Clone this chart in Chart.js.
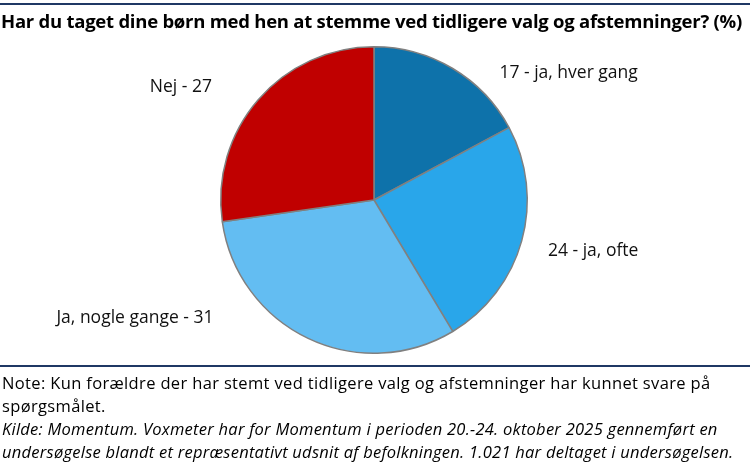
<!DOCTYPE html>
<html>
<head>
<meta charset="utf-8">
<script src="https://cdn.jsdelivr.net/npm/chart.js@4.4.1/dist/chart.umd.min.js"></script>
<style>
  body { margin: 0; background: #fff; font-family: 'Open Sans', sans-serif; }
  #wrap { position: relative; width: 750px; height: 470px; overflow: hidden; }
  #chart { position: absolute; left: 0; top: 0; }
  .rule { position: absolute; left: 0; width: 750px; height: 2px; background: #1f3864; }
  #title { position: absolute; left: 1px; top: 8px; font-size: 18.5px; font-weight: bold; color: #000; white-space: nowrap; letter-spacing: -0.25px; }
  #notes { position: absolute; left: 2px; top: 371px; font-size: 16.5px; line-height: 23px; color: #000; white-space: nowrap; letter-spacing: 0.35px; }
  #notes i { letter-spacing: 0.25px; }
</style>
</head>
<body>
<div id="wrap">
  <canvas id="chart" width="750" height="470"></canvas>
  <div class="rule" style="top:3px"></div>
  <div id="title">Har du taget dine børn med hen at stemme ved tidligere valg og afstemninger? (%)</div>
  <div class="rule" style="top:365px"></div>
  <div id="notes">
    Note: Kun forældre der har stemt ved tidligere valg og afstemninger har kunnet svare på<br>spørgsmålet.<br>
    <i>Kilde: Momentum. Voxmeter har for Momentum i perioden 20.-24. oktober 2025 gennemført en<br>undersøgelse blandt et repræsentativt udsnit af befolkningen. 1.021 har deltaget i undersøgelsen.</i>
  </div>
</div>
<script>
const categories = ['ja, hver gang', 'ja, ofte', 'Ja, nogle gange', 'Nej'];
const values = [17, 24, 31, 27];
const sliceLabels = ['17 - ja, hver gang', '24 - ja, ofte', 'Ja, nogle gange - 31', 'Nej - 27'];
const colors = ['#0e72aa', '#29a6ea', '#63bdf2', '#c00000'];

// label anchors relative to pie centre, in units of the radius
const labelOffsets = [[1.27, -0.83], [1.43, 0.33], [-1.56, 0.77], [-1.26, -0.74]];

const outsideLabels = {
    id: 'outsideLabels',
    afterDatasetsDraw(chart) {
        const ctx = chart.ctx;
        const meta = chart.getDatasetMeta(0);
        ctx.save();
        ctx.font = '17.5px "Open Sans", sans-serif';
        ctx.fillStyle = '#111';
        ctx.textAlign = 'center';
        ctx.textBaseline = 'middle';
        meta.data.forEach((arc, i) => {
            const r = arc.outerRadius;
            ctx.fillText(sliceLabels[i], arc.x + labelOffsets[i][0] * r, arc.y + labelOffsets[i][1] * r);
        });
        ctx.restore();
    }
};

document.fonts.load('17px "Open Sans"').then(() => {
    new Chart(document.getElementById('chart'), {
        type: 'pie',
        data: {
            labels: categories,
            datasets: [{
                data: values,
                backgroundColor: colors,
                borderColor: '#808080',
                borderWidth: 1.5
            }]
        },
        options: {
            responsive: false,
            animation: false,
            layout: { padding: { top: 46, bottom: 116, left: 220, right: 222 } },
            plugins: {
                legend: { display: false },
                tooltip: { enabled: false }
            }
        },
        plugins: [outsideLabels]
    });
});
</script>
</body>
</html>
